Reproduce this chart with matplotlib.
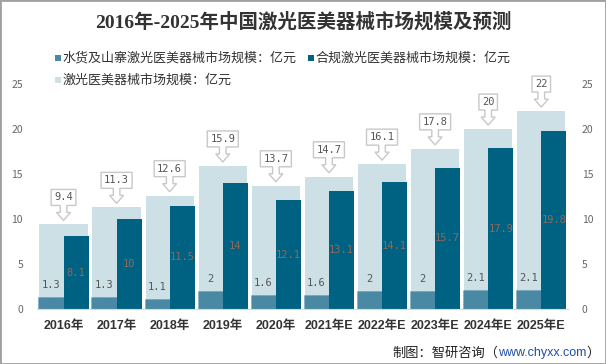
import matplotlib.pyplot as plt
import matplotlib.transforms as mtransforms
from matplotlib.patches import Polygon, Rectangle
import numpy as np

plt.rcParams['font.family'] = ['Noto Sans CJK SC', 'DejaVu Sans']

# Data
years = ['2016年', '2017年', '2018年', '2019年', '2020年',
         '2021年E', '2022年E', '2023年E', '2024年E', '2025年E']
total = [9.4, 11.3, 12.6, 15.9, 13.7, 14.7, 16.1, 17.8, 20, 22]
fake = [1.3, 1.3, 1.1, 2, 1.6, 1.6, 2, 2, 2.1, 2.1]
legal = [8.1, 10, 11.5, 14, 12.1, 13.1, 14.1, 15.7, 17.9, 19.8]

name_fake = '水货及山寨激光医美器械市场规模：亿元'
name_legal = '合规激光医美器械市场规模：亿元'
name_total = '激光医美器械市场规模：亿元'

c_total = '#cce0e6'
c_fake = '#4a89a3'
c_legal = '#006283'

fig = plt.figure(figsize=(6.06, 3.64), dpi=100)
ax = fig.add_axes([0.061, 0.151, 0.876, 0.618])

x = np.arange(len(years))

ax.bar(x, total, width=0.91, color=c_total, zorder=1)
ax.bar(x - 0.237, fake, width=0.474, color=c_fake, zorder=2,
       edgecolor='#437f98', linestyle=':', linewidth=0.4)
ax.bar(x + 0.237, legal, width=0.474, color=c_legal, zorder=2)

ax.set_xlim(-0.5, 9.5)
ax.set_ylim(0, 25)
ax.set_yticks(range(0, 26, 5))
ax.tick_params(axis='y', length=0, labelsize=7.5, labelcolor='#666666', pad=10)
ax.tick_params(axis='x', length=0, pad=8)
ax.set_xticks(x)
ax.set_xticklabels(years, fontsize=9, fontweight='bold', color='#333333',
                   family=['Liberation Sans', 'Noto Sans CJK SC'])
for s in ['top', 'left', 'right']:
    ax.spines[s].set_visible(False)
ax.spines['bottom'].set_color('#d9d9d9')

ax2 = ax.twinx()
ax2.set_ylim(0, 25)
ax2.set_yticks(range(0, 26, 5))
ax2.tick_params(axis='y', length=0, labelsize=7.5, labelcolor='#666666', pad=10)
for s in ax2.spines.values():
    s.set_visible(False)

mono = 'DejaVu Sans Mono'

# value labels
for i in range(len(years)):
    ax.annotate(f'{fake[i]:g}', (x[i] - 0.237, fake[i]), xytext=(0, 12),
                textcoords='offset pixels', ha='center', va='center',
                fontsize=7.5, family=mono, color='#555555', zorder=5)
    ax.text(x[i] + 0.237, legal[i] / 2, f'{legal[i]:g}', ha='center', va='center',
            fontsize=7.5, family=mono, color='#8c6a5c', zorder=5)

# callouts on totals
for i in range(len(years)):
    label = f'{total[i]:g}'
    hw = (len(label) * 6.25 + 6) / 2
    verts = [(0, 4), (7, 12), (3.3, 12), (3.3, 19), (hw, 19), (hw, 35),
             (-hw, 35), (-hw, 19), (-3.3, 19), (-3.3, 12), (-7, 12)]
    trans = mtransforms.Affine2D() + mtransforms.ScaledTranslation(x[i], total[i], ax.transData)
    ax.add_patch(Polygon(verts, closed=True, transform=trans, facecolor='white',
                         edgecolor='#c8c8c8', linewidth=1, clip_on=False, zorder=6))
    ax.annotate(label, (x[i], total[i]), xytext=(0, 27), textcoords='offset pixels',
                ha='center', va='center', fontsize=7.5, family=mono,
                color='#555555', zorder=7, annotation_clip=False)

# title
fig.text(0.5, 1 - 22 / 364, '2016年-2025年中国激光医美器械市场规模及预测',
         ha='center', va='center', fontsize=14, fontweight='bold', color='#333333',
         family=['Liberation Serif', 'Noto Sans CJK SC'])

# legend
W, H = 606, 364
items = [(name_fake, c_fake, 55, 58), (name_legal, c_legal, 308, 58),
         (name_total, c_total, 55, 80)]
for name, col, px, py in items:
    fig.patches.append(Rectangle((px / W, 1 - (py + 3) / H), 6 / W, 6 / H,
                                 transform=fig.transFigure, facecolor=col,
                                 edgecolor='none'))
    fig.text((px + 8) / W, 1 - py / H, name, ha='left', va='center',
             fontsize=9.4, color='#333333')

# source
t1 = fig.text(600 / W, 1 - 353 / H, '）', ha='right', va='center',
              fontsize=9.5, color='#222222')
t2 = ax.annotate('www.chyxx.com', xy=(0, 0.5), xycoords=t1, ha='right', va='center',
                 fontsize=9, color='#1f4fa8', family=['Liberation Sans', 'Noto Sans CJK SC'],
                 annotation_clip=False)
ax.annotate('制图：智研咨询（', xy=(0, 0.5), xycoords=t2, ha='right', va='center',
            fontsize=9.5, color='#222222', annotation_clip=False)

# frame
fig.patches.append(Rectangle((0, 0), 1, 1, transform=fig.transFigure, fill=False,
                             edgecolor='#a0a0a0', linewidth=2))

fig.savefig('out.png', dpi=100)
